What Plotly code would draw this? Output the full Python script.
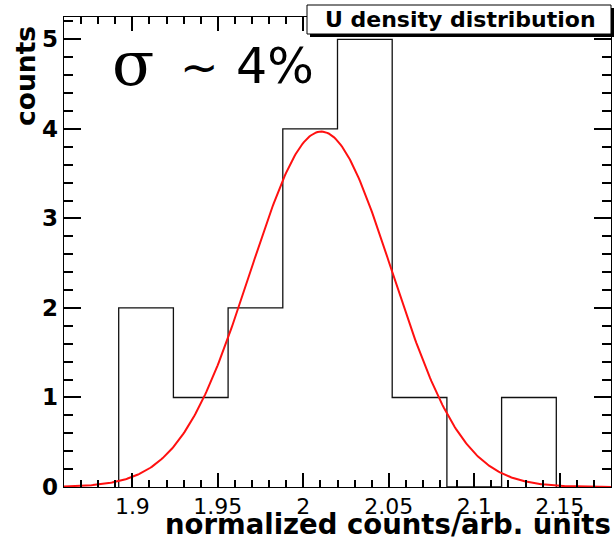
import numpy as np
import plotly.graph_objects as go

# Histogram of normalised U density measurements
bin_start = 1.892
bin_width = 0.032
counts = [2, 1, 2, 4, 5, 1, 0, 1]

# Gaussian fit parameters
fit_amplitude = 3.97
fit_mean = 2.0105
fit_sigma = 0.0414

x_range = [1.86, 2.18]
y_range = [0, 5.25]
y_tick_values = [0, 1, 2, 3, 4, 5]

title_text = "U density distribution"
x_title = "normalized counts/arb. units"
y_title = "counts"

W, H = 616, 541
ML, MR, MT, MB = 64, 5, 17, 54
PW, PH = W - ML - MR, H - MT - MB


def px(xp):
    return (xp - ML) / PW


def py(yp):
    return (H - MB - yp) / PH


edges = [bin_start + i * bin_width for i in range(len(counts) + 1)]
step_x = [edges[0]] + edges
step_y = [0] + counts + [0]

fit_x = np.linspace(x_range[0], x_range[1], 400)
fit_y = fit_amplitude * np.exp(-((fit_x - fit_mean) ** 2) / (2 * fit_sigma ** 2))

fig = go.Figure()
fig.add_trace(go.Scatter(x=step_x, y=step_y, mode="lines", line=dict(color="#111111", width=1.3, shape="hv"),
                         hoverinfo="skip", showlegend=False))
fig.add_trace(go.Scatter(x=fit_x, y=fit_y, mode="lines", line=dict(color="#ff1010", width=2),
                         hoverinfo="skip", showlegend=False))

axis_common = dict(showline=True, linecolor="black", linewidth=1, mirror="allticks",
                   ticks="inside", tickcolor="black", tickwidth=1.5, showgrid=False, zeroline=False)

fig.update_xaxes(range=x_range, tickmode="linear", tick0=1.9, dtick=0.05, ticklen=14,
                 tickformat=".3~g", tickfont=dict(family="DejaVu Sans", size=22, color="black"),
                 minor=dict(tick0=1.9, dtick=0.01, ticks="inside", ticklen=7, tickcolor="black",
                            tickwidth=1.5, showgrid=False),
                 **axis_common)
fig.update_yaxes(range=y_range, tickmode="array", tickvals=y_tick_values, ticklen=17,
                 showticklabels=False,
                 minor=dict(tick0=0, dtick=0.2, ticks="inside", ticklen=9, tickcolor="black",
                            tickwidth=1.5, showgrid=False),
                 **axis_common)

# title box with drop shadow
shapes = [
    dict(type="rect", xref="paper", yref="paper", x0=px(310), x1=px(614), y0=py(37), y1=py(8),
         fillcolor="black", line=dict(width=0), layer="above"),
    dict(type="rect", xref="paper", yref="paper", x0=px(307), x1=px(611), y0=py(34), y1=py(5),
         fillcolor="white", line=dict(color="black", width=1), layer="above"),
]

annotations = [
    dict(text=title_text, xref="paper", yref="paper", x=px(460), y=py(19.5), xanchor="center", yanchor="middle",
         showarrow=False, font=dict(family="DejaVu Sans", size=22, color="black", weight="bold")),
    dict(text=x_title, xref="paper", yref="paper", x=px(613), y=py(524), xanchor="right", yanchor="middle",
         showarrow=False, font=dict(family="DejaVu Sans", size=27.5, color="black", weight="bold")),
    dict(text=y_title, xref="paper", yref="paper", x=px(26), y=py(24), xanchor="center", yanchor="top",
         textangle=-90, showarrow=False, font=dict(family="DejaVu Sans", size=26.5, color="black", weight="bold")),
    dict(text="σ", xref="paper", yref="paper", x=px(110), y=py(63), xanchor="left", yanchor="middle",
         showarrow=False, font=dict(family="DejaVu Serif", size=62, color="black")),
    dict(text="~", xref="paper", yref="paper", x=px(178), y=py(67), xanchor="left", yanchor="middle",
         showarrow=False, font=dict(family="DejaVu Sans", size=46, color="black")),
    dict(text="4%", xref="paper", yref="paper", x=px(234), y=py(66), xanchor="left", yanchor="middle",
         showarrow=False, font=dict(family="DejaVu Sans", size=49, color="black")),
]

# y tick labels placed on the y scale, just left of the frame
for v in y_tick_values:
    annotations.append(dict(text=str(v), xref="paper", yref="y", x=px(60), y=v, xanchor="right",
                            yanchor="middle", showarrow=False,
                            font=dict(family="DejaVu Sans", size=23, color="black", weight="bold")))

fig.update_layout(width=W, height=H, margin=dict(l=ML, r=MR, t=MT, b=MB),
                  paper_bgcolor="white", plot_bgcolor="white",
                  shapes=shapes, annotations=annotations)

fig.write_html("out.html")
